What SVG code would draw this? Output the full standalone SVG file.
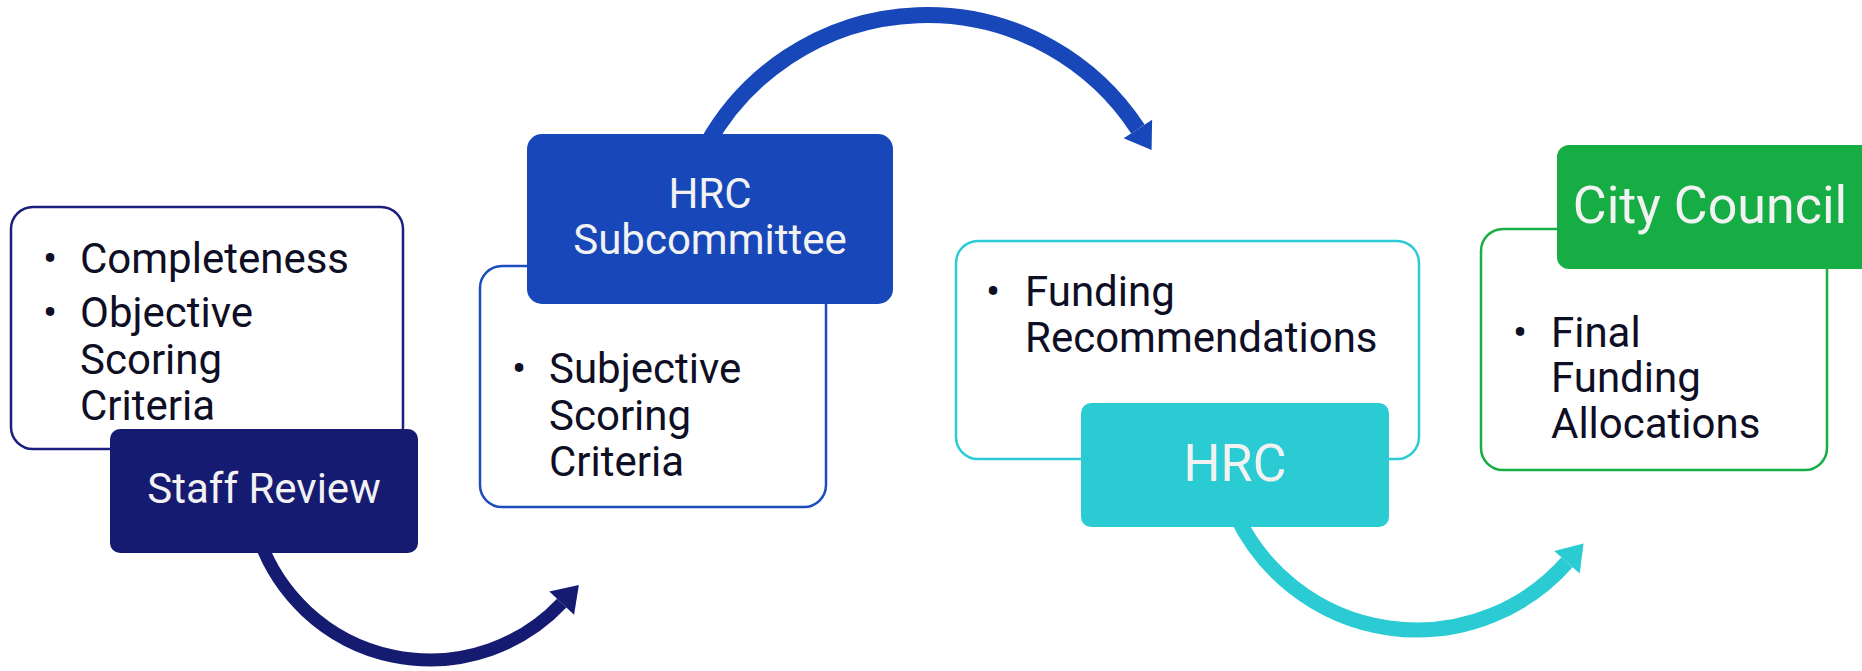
<svg xmlns="http://www.w3.org/2000/svg" width="1862" height="671" viewBox="0 0 1862 671">
  <style>
    .body { font-family: Roboto, "Liberation Sans", sans-serif; font-size: 42px; fill: #0e0e24; }
    .bul { font-family: Roboto, "Liberation Sans", sans-serif; font-size: 42px; fill: #0e0e24; text-anchor: middle; }
    .lbl { font-family: Roboto, "Liberation Sans", sans-serif; font-size: 42px; fill: #f2f2f2; text-anchor: middle; }
    .big { font-size: 52px; }
    .outline { fill: #ffffff; stroke-width: 2.5; }
    .arc { fill: none; }
  </style>
  <defs>
    <marker id="ahNavy" markerUnits="userSpaceOnUse" markerWidth="30" markerHeight="40" refX="0" refY="17" orient="auto" overflow="visible">
      <path d="M0,0 L25,17 L0,34 Z" fill="#161b72"/>
    </marker>
    <marker id="ahBlue" markerUnits="userSpaceOnUse" markerWidth="30" markerHeight="40" refX="0" refY="17" orient="auto" overflow="visible">
      <path d="M0,0 L25,17 L0,34 Z" fill="#1747b9"/>
    </marker>
    <marker id="ahCyan" markerUnits="userSpaceOnUse" markerWidth="30" markerHeight="40" refX="0" refY="17" orient="auto" overflow="visible">
      <path d="M0,0 L25,17 L0,34 Z" fill="#2bcbd4"/>
    </marker>
  </defs>

  <g id="connectors">
    <path class="arc" d="M259.6,540 A181,181 0 0 0 561.7,603.1" stroke="#161b72" stroke-width="13" marker-end="url(#ahNavy)"/>
    <path class="arc" d="M706.5,145 A252,252 0 0 1 1137.9,129" stroke="#1747b9" stroke-width="16" marker-end="url(#ahBlue)"/>
    <path class="arc" d="M1236,515 A200,200 0 0 0 1567,562.3" stroke="#2bcbd4" stroke-width="15" marker-end="url(#ahCyan)"/>
  </g>

  <g id="staff-review">
    <rect class="outline" x="11" y="207" width="392" height="242" rx="22" stroke="#1c1f7c"/>
    <text class="bul" x="50" y="273">•</text>
    <text class="body" x="80" y="273">Completeness</text>
    <text class="bul" x="50" y="327">•</text>
    <text class="body" x="80" y="327">Objective</text>
    <text class="body" x="80" y="374">Scoring</text>
    <text class="body" x="80" y="420">Criteria</text>
    <rect x="110" y="429" width="308" height="124" rx="10" fill="#161b72"/>
    <text class="lbl" x="264" y="503">Staff Review</text>
  </g>

  <g id="hrc-subcommittee">
    <rect class="outline" x="480" y="266" width="346" height="241" rx="22" stroke="#1c4dbc"/>
    <text class="bul" x="519" y="383">•</text>
    <text class="body" x="549" y="383">Subjective</text>
    <text class="body" x="549" y="430">Scoring</text>
    <text class="body" x="549" y="476">Criteria</text>
    <rect x="527" y="134" width="366" height="170" rx="15" fill="#1747b9"/>
    <text class="lbl" x="710" y="208">HRC</text>
    <text class="lbl" x="710" y="254">Subcommittee</text>
  </g>

  <g id="hrc">
    <rect class="outline" x="956" y="241" width="463" height="218" rx="22" stroke="#2ccbd5"/>
    <text class="bul" x="993" y="306">•</text>
    <text class="body" x="1025" y="306">Funding</text>
    <text class="body" x="1025" y="352">Recommendations</text>
    <rect x="1081" y="403" width="308" height="124" rx="10" fill="#2bcbd4"/>
    <text class="lbl big" x="1235" y="481">HRC</text>
  </g>

  <g id="city-council">
    <rect class="outline" x="1481" y="229" width="346" height="241" rx="22" stroke="#17ae43"/>
    <text class="bul" x="1520" y="347">•</text>
    <text class="body" x="1551" y="347">Final</text>
    <text class="body" x="1551" y="392">Funding</text>
    <text class="body" x="1551" y="438">Allocations</text>
    <rect x="1557" y="145" width="316" height="124" rx="12" fill="#16ae44"/>
    <text class="lbl big" x="1710" y="223">City Council</text>
  </g>
</svg>
